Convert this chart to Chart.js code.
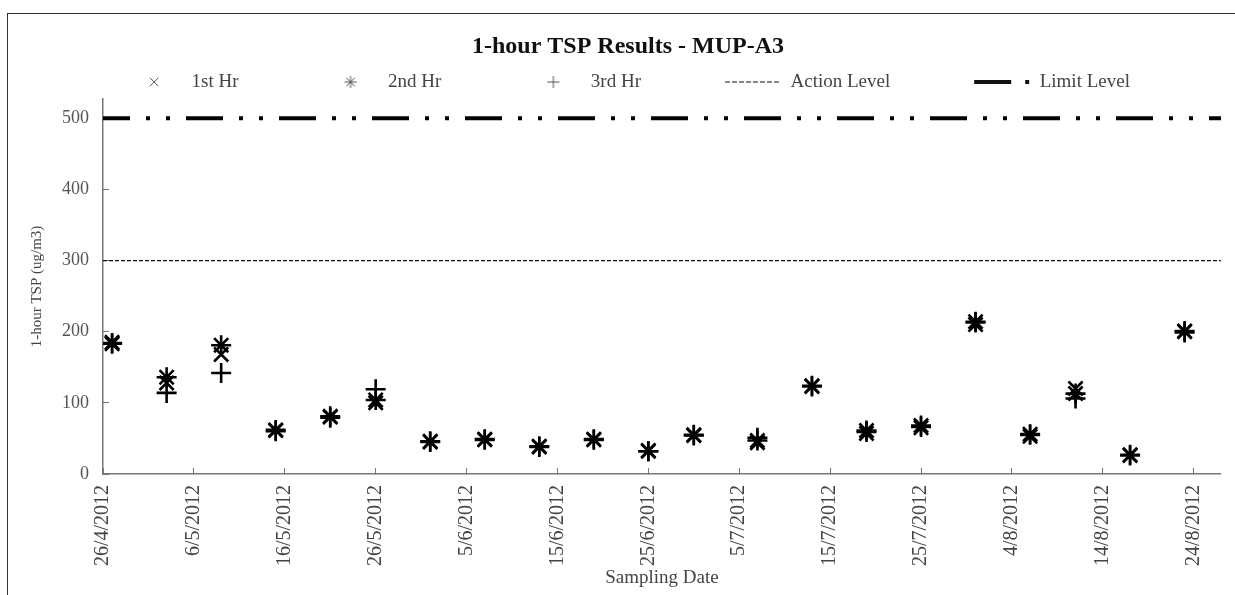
<!DOCTYPE html>
<html>
<head>
<meta charset="utf-8">
<title>1-hour TSP Results - MUP-A3</title>
<script src="https://cdn.jsdelivr.net/npm/chart.js@4.4.1/dist/chart.umd.min.js"></script>
<style>
  html, body { margin: 0; padding: 0; background: #fff; overflow: hidden; }
  #frame { position: absolute; left: 7px; top: 13px; width: 1240px; height: 600px; border: 1px solid #333; }
  #chart { position: absolute; left: 0; top: 0; }
</style>
</head>
<body>
<div id="frame"></div>
<canvas id="chart" width="1235" height="595"></canvas>
<script>
// Sampling dates and the three hourly readings (ug/m3)
const sampleDates = ['27/4/2012', '3/5/2012', '9/5/2012', '15/5/2012', '21/5/2012', '26/5/2012',
    '1/6/2012', '7/6/2012', '13/6/2012', '19/6/2012', '25/6/2012', '30/6/2012', '7/7/2012',
    '13/7/2012', '19/7/2012', '25/7/2012', '31/7/2012', '6/8/2012', '11/8/2012', '17/8/2012', '23/8/2012'];
const hr1 = [185, 128, 168, 61, 80, 100, 46, 49, 39, 49, 33, 55, 44, 124, 57, 65, 210, 53, 120, 27, 200];
const hr2 = [183, 136, 181, 62, 81, 104, 45, 48, 38, 48, 32, 54, 47, 123, 61, 68, 214, 56, 113, 26, 201];
const hr3 = [184, 114, 142, 60, 79, 119, 46, 49, 39, 49, 32, 55, 51, 124, 59, 66, 213, 55, 106, 27, 199];

const actionLevel = 300;
const limitLevel = 500;

// Axis ticks
const xTickLabels = ['26/4/2012', '6/5/2012', '16/5/2012', '26/5/2012', '5/6/2012', '15/6/2012',
    '25/6/2012', '5/7/2012', '15/7/2012', '25/7/2012', '4/8/2012', '14/8/2012', '24/8/2012'];
const xAxisEnd = '27/8/2012';
const yTickLabels = [0, 100, 200, 300, 400, 500];
const yAxisMax = 527;

// days counted from the first axis date
function toUtc(s) {
    const [d, m, y] = s.split('/').map(Number);
    return Date.UTC(y, m - 1, d);
}
const day0 = toUtc(xTickLabels[0]);
const dayOf = s => (toUtc(s) - day0) / 86400000;

const xMin = 0;
const xMax = dayOf(xAxisEnd);

const points = vals => sampleDates.map((d, i) => ({ x: dayOf(d), y: vals[i] }));
const level = v => [{ x: xMin, y: v }, { x: xMax, y: v }];

const serif = "'Liberation Serif', 'Times New Roman', serif";
Chart.defaults.font.family = serif;
Chart.defaults.color = '#444';

// small legend symbols (the legend stretches built-in crosses to the box width)
function legendSymbol(style) {
    const c = document.createElement('canvas');
    c.width = 16;
    c.height = 16;
    const g = c.getContext('2d');
    g.strokeStyle = '#555';
    g.fillStyle = '#555';
    Chart.helpers.drawPoint(g, { pointStyle: style, radius: 6, borderWidth: 1.3, rotation: 0 }, 8, 8);
    return c;
}

const markerStyle = {
    showLine: false,
    borderColor: '#000',
    backgroundColor: '#000',
    pointRadius: 10,
    pointHoverRadius: 10,
    pointBorderWidth: 2.6
};

const ctx = document.getElementById('chart').getContext('2d');
const chart = new Chart(ctx, {
    type: 'scatter',
    data: {
        datasets: [
            { label: '1st Hr', data: points(hr1), pointStyle: 'crossRot', ...markerStyle },
            { label: '2nd Hr', data: points(hr2), pointStyle: 'star', ...markerStyle },
            { label: '3rd Hr', data: points(hr3), pointStyle: 'cross', ...markerStyle },
            {
                label: 'Action Level',
                data: level(actionLevel),
                showLine: true,
                pointRadius: 0,
                pointStyle: 'line',
                borderColor: '#111',
                borderWidth: 1.2,
                borderDash: [4, 2]
            },
            {
                label: 'Limit Level',
                data: level(limitLevel),
                showLine: true,
                pointRadius: 0,
                pointStyle: 'line',
                borderColor: '#000',
                borderWidth: 4,
                borderCapStyle: 'butt',
                borderDash: [37, 16, 4, 16, 4, 16],
                borderDashOffset: 10
            }
        ]
    },
    options: {
        responsive: false,
        animation: false,
        layout: { padding: { left: 33, right: 12, top: 0, bottom: 0 } },
        plugins: {
            title: { display: false },
            tooltip: { enabled: false },
            legend: {
                position: 'top',
                align: 'center',
                maxHeight: 99,
                title: {
                    display: true,
                    text: '1-hour TSP Results - MUP-A3',
                    color: '#111',
                    font: { size: 24, weight: 'bold', family: serif },
                    padding: { top: 35, bottom: -75.3 }
                },
                labels: {
                    usePointStyle: true,
                    pointStyleWidth: 56,
                    boxHeight: 7,
                    padding: 84,
                    color: '#444',
                    font: { size: 19, family: serif },
                    generateLabels: c => Chart.defaults.plugins.legend.labels.generateLabels(c).map(item => {
                        const ds = c.data.datasets[item.datasetIndex];
                        if (item.datasetIndex < 3) {
                            item.pointStyle = legendSymbol(ds.pointStyle);
                        } else {
                            item.lineWidth = ds.borderWidth;
                            item.lineDash = item.datasetIndex === 3 ? [5, 2] : [37, 14, 4, 30];
                            item.lineDashOffset = 0;
                            item.strokeStyle = '#111';
                        }
                        return item;
                    })
                }
            }
        },
        scales: {
            x: {
                type: 'linear',
                min: xMin,
                max: xMax,
                afterBuildTicks: axis => {
                    axis.ticks = xTickLabels.map(d => ({ value: dayOf(d) }));
                },
                afterFit: axis => { axis.height = 121; },
                ticks: {
                    autoSkip: false,
                    minRotation: 90,
                    maxRotation: 90,
                    padding: 17,
                    color: '#444',
                    font: { size: 20 },
                    callback: (value, index) => xTickLabels[index]
                },
                grid: { drawOnChartArea: false, tickLength: -6, color: '#777', lineWidth: 1 },
                border: { color: '#777', width: 1.5 },
                title: {
                    display: true,
                    text: 'Sampling Date',
                    color: '#444',
                    font: { size: 19 },
                    padding: { top: 0, bottom: 6 }
                }
            },
            y: {
                min: 0,
                max: yAxisMax,
                afterBuildTicks: axis => {
                    axis.ticks = yTickLabels.map(v => ({ value: v }));
                },
                afterFit: axis => { axis.width = 70; },
                ticks: {
                    padding: 20,
                    color: '#555',
                    font: { size: 18 }
                },
                grid: { drawOnChartArea: false, tickLength: -6, color: '#777', lineWidth: 1 },
                border: { color: '#777', width: 1.5 },
                title: {
                    display: true,
                    text: '1-hour TSP (ug/m3)',
                    color: '#444',
                    font: { size: 15 },
                    padding: { top: -5, bottom: 0 }
                }
            }
        }
    }
});
</script>
</body>
</html>
